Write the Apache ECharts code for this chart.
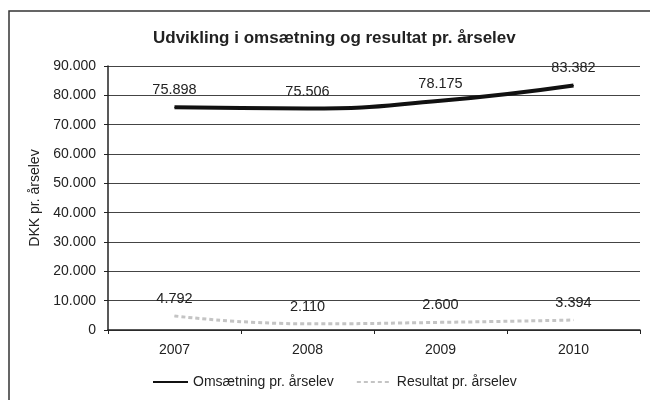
<!DOCTYPE html>
<html>
<head>
<meta charset="utf-8">
<script src="https://cdn.jsdelivr.net/npm/echarts@6/dist/echarts.min.js"></script>
<style>
  html, body { margin: 0; padding: 0; background: #fff; }
  #chart { width: 650px; height: 400px; }
</style>
</head>
<body>
<div id="chart"></div>
<script>
// data
const years = ['2007', '2008', '2009', '2010']
const omsaetning = [75898, 75506, 78175, 83382]
const resultat = [4792, 2110, 2600, 3394]
const seriesNames = ['Omsætning pr. årselev', 'Resultat pr. årselev']

// danish thousands separator
function fmt(v) {
  return String(v).replace(/\B(?=(\d{3})+(?!\d))/g, '.')
}

const chart = echarts.init(document.getElementById('chart'))
const font = 'Liberation Sans, Arial, sans-serif'

// value labels sit above each point
const valueLabel = {
  show: true,
  position: 'top',
  distance: 9,
  fontSize: 14.5,
  color: '#222',
  formatter: p => fmt(p.value)
}

const option = {
  backgroundColor: '#fff',
  animation: false,
  textStyle: { fontFamily: font },
  title: {
    text: 'Udvikling i omsætning og resultat pr. årselev',
    left: 148,
    top: 25,
    textStyle: { fontSize: 17, fontWeight: 'bold', color: '#222', fontFamily: font }
  },
  // frame round the chart (only top and left edge are inside the picture)
  graphic: [{
    type: 'rect',
    shape: { x: 9, y: 11, width: 700, height: 500 },
    style: { fill: 'none', stroke: '#333', lineWidth: 1.5 },
    silent: true
  }],
  legend: {
    bottom: 6,
    left: 147,
    itemWidth: 35,
    itemHeight: 10,
    itemGap: 22,
    itemStyle: { opacity: 0 },
    textStyle: { fontSize: 14, color: '#222' },
    data: seriesNames
  },
  grid: { left: 108, right: 10, top: 66, bottom: 70 },
  xAxis: {
    type: 'category',
    data: years,
    axisLine: { lineStyle: { color: '#222', width: 1.5 } },
    axisTick: { show: true, length: 4, lineStyle: { color: '#222' } },
    axisLabel: { fontSize: 14, color: '#222', margin: 13 }
  },
  yAxis: {
    type: 'value',
    min: 0,
    max: 90000,
    interval: 10000,
    name: 'DKK pr. årselev',
    nameLocation: 'middle',
    nameGap: 57,
    nameTextStyle: { fontSize: 14, color: '#222' },
    axisLine: { show: true, lineStyle: { color: '#222', width: 1.5 } },
    axisTick: { show: true, length: 4, lineStyle: { color: '#222' } },
    axisLabel: { fontSize: 14, color: '#222', margin: 12, formatter: fmt },
    splitLine: { lineStyle: { color: '#444', width: 1 } }
  },
  series: [
    {
      name: seriesNames[0],
      type: 'line',
      data: omsaetning,
      smooth: true,
      symbol: 'circle',
      symbolSize: 1,
      lineStyle: { color: '#111', width: 4 },
      itemStyle: { color: '#111' },
      label: valueLabel
    },
    {
      name: seriesNames[1],
      type: 'line',
      data: resultat,
      smooth: true,
      symbol: 'circle',
      symbolSize: 1,
      lineStyle: { color: '#c4c4c4', width: 3, type: [4, 3] },
      itemStyle: { color: '#c4c4c4' },
      label: valueLabel
    }
  ]
}

chart.setOption(option)
</script>
</body>
</html>
